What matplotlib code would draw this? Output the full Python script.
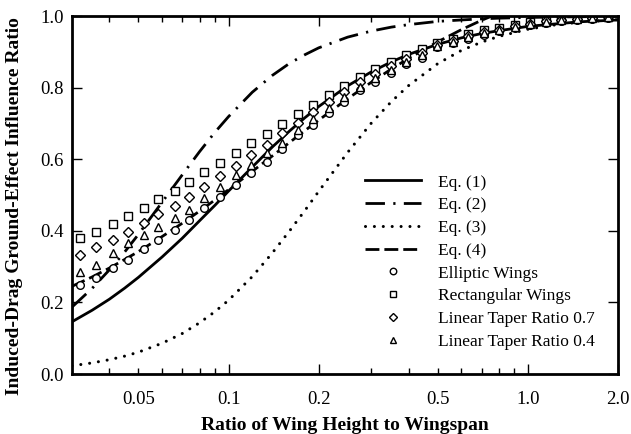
import matplotlib
matplotlib.use("Agg")
import matplotlib.pyplot as plt
from matplotlib.ticker import FixedLocator, FuncFormatter

plt.rcParams['font.family'] = ['Liberation Serif', 'DejaVu Serif']

# equation curves
h_eq = [0.03, 0.035, 0.04, 0.045, 0.05, 0.06, 0.07, 0.08, 0.09, 0.1, 0.12, 0.14,
        0.16, 0.18, 0.2, 0.25, 0.3, 0.35, 0.4, 0.5, 0.6, 0.7, 0.8, 1.0, 1.2, 1.5, 2.0]
eq1 = [0.146, 0.178, 0.209, 0.240, 0.270, 0.327, 0.379, 0.428, 0.471, 0.511, 0.578, 0.634,
       0.679, 0.716, 0.747, 0.805, 0.844, 0.872, 0.893, 0.921, 0.939, 0.951, 0.959, 0.971,
       0.977, 0.984, 0.989]
eq2 = [0.187, 0.239, 0.291, 0.341, 0.390, 0.480, 0.556, 0.621, 0.675, 0.719, 0.787, 0.834,
       0.868, 0.892, 0.911, 0.941, 0.958, 0.969, 0.976, 0.985, 0.989, 0.992, 0.994, 0.996,
       0.997, 0.998, 0.999]
eq3 = [0.023, 0.031, 0.040, 0.050, 0.061, 0.086, 0.113, 0.143, 0.174, 0.206, 0.272, 0.338,
       0.400, 0.457, 0.510, 0.619, 0.701, 0.761, 0.806, 0.867, 0.904, 0.927, 0.943, 0.963,
       0.974, 0.983, 0.990]
eq4 = [0.245, 0.271, 0.296, 0.320, 0.342, 0.384, 0.421, 0.455, 0.486, 0.515, 0.566, 0.609,
       0.647, 0.680, 0.709, 0.769, 0.815, 0.852, 0.882, 0.928, 0.962, 0.988, 1.008, 1.038,
       1.059, 1.081, 1.103]

# wing data points
h_pts = [0.032, 0.036, 0.041, 0.046, 0.052, 0.058, 0.066, 0.074, 0.083, 0.094, 0.106, 0.119,
         0.134, 0.151, 0.170, 0.192, 0.216, 0.244, 0.275, 0.309, 0.348, 0.393, 0.442, 0.498,
         0.562, 0.633, 0.713, 0.803, 0.905, 1.02, 1.15, 1.29, 1.46, 1.64, 1.85]
elliptic = [0.249, 0.268, 0.296, 0.318, 0.348, 0.374, 0.402, 0.430, 0.463, 0.495, 0.528, 0.561,
            0.593, 0.628, 0.668, 0.696, 0.728, 0.761, 0.793, 0.817, 0.840, 0.866, 0.884, 0.914,
            0.924, 0.935, 0.948, 0.957, 0.967, 0.975, 0.981, 0.986, 0.990, 0.993, 0.995]
rectangular = [0.379, 0.397, 0.418, 0.442, 0.464, 0.488, 0.512, 0.537, 0.563, 0.590, 0.616, 0.644,
               0.670, 0.698, 0.726, 0.751, 0.779, 0.804, 0.829, 0.851, 0.872, 0.891, 0.907, 0.926,
               0.937, 0.950, 0.960, 0.966, 0.974, 0.982, 0.987, 0.991, 0.994, 0.996, 0.998]
taper07 = [0.332, 0.354, 0.374, 0.397, 0.422, 0.447, 0.470, 0.495, 0.523, 0.553, 0.581, 0.612,
           0.641, 0.672, 0.702, 0.733, 0.761, 0.789, 0.817, 0.838, 0.860, 0.880, 0.897, 0.920,
           0.931, 0.944, 0.955, 0.962, 0.971, 0.979, 0.985, 0.989, 0.993, 0.995, 0.997]
taper04 = [0.285, 0.305, 0.338, 0.366, 0.388, 0.411, 0.436, 0.458, 0.492, 0.523, 0.556, 0.584,
           0.616, 0.644, 0.682, 0.712, 0.742, 0.773, 0.803, 0.826, 0.849, 0.872, 0.890, 0.917,
           0.928, 0.940, 0.952, 0.960, 0.969, 0.978, 0.984, 0.988, 0.992, 0.994, 0.996]

major_x = [0.1, 0.2, 1.0, 2.0]
minor_x = [0.04, 0.05, 0.06, 0.07, 0.08, 0.09, 0.3, 0.4, 0.5, 0.6, 0.7, 0.8, 0.9]
labeled_x = {0.05: "0.05", 0.1: "0.1", 0.2: "0.2", 0.5: "0.5", 1.0: "1.0", 2.0: "2.0"}

fig = plt.figure(figsize=(6.31, 4.34), dpi=100)
ax = fig.add_axes([0.1141, 0.1382, 0.8653, 0.8249])

lw = 2.0
ax.plot(h_eq, eq1, color='black', lw=lw, ls='-', label='Eq. (1)')
ax.plot(h_eq, eq2, color='black', lw=lw, ls=(0, (7, 3, 0.8, 3)), label='Eq. (2)')
ax.plot(h_eq, eq3, color='black', lw=2.2, ls=(0, (0.01, 2.9)), dash_capstyle='round',
        label='Eq. (3)')
ax.plot(h_eq, eq4, color='black', lw=lw, ls=(0, (5, 1.8)), label='Eq. (4)')

mk = dict(ls='none', mfc='white', mec='black', mew=1.0, ms=5.5)
ax.plot(h_pts, elliptic, marker='o', label='Elliptic Wings', **mk)
ax.plot(h_pts, rectangular, marker='s', label='Rectangular Wings', **mk)
ax.plot(h_pts, taper07, marker='D', label='Linear Taper Ratio 0.7', **{**mk, 'ms': 5})
ax.plot(h_pts, taper04, marker='^', label='Linear Taper Ratio 0.4', **mk)

ax.set_xscale('log')
ax.set_xlim(0.03, 2.0)
ax.set_ylim(0.0, 1.0)
ax.xaxis.set_major_locator(FixedLocator(major_x))
ax.xaxis.set_minor_locator(FixedLocator(minor_x))
fmt = FuncFormatter(lambda v, p: labeled_x.get(round(v, 3), ""))
ax.xaxis.set_major_formatter(fmt)
ax.xaxis.set_minor_formatter(fmt)
ax.set_yticks([0.0, 0.2, 0.4, 0.6, 0.8, 1.0])
ax.set_yticklabels(["0.0", "0.2", "0.4", "0.6", "0.8", "1.0"])

ax.tick_params(which='both', direction='in', top=True, right=True, labelsize=13.5,
               width=1.0)
ax.tick_params(which='major', length=7)
ax.tick_params(which='minor', length=4)
ax.tick_params(axis='x', which='both', pad=12)
ax.tick_params(axis='y', which='both', pad=6)
for s in ax.spines.values():
    s.set_linewidth(2.0)

ax.set_xlabel('Ratio of Wing Height to Wingspan', fontsize=14, fontweight='bold', labelpad=7)
ax.set_ylabel('Induced-Drag Ground-Effect Influence Ratio', fontsize=14, fontweight='bold')
ax.yaxis.set_label_coords(-0.09, 0.47)

ax.legend(loc='upper left', bbox_to_anchor=(0.524, 0.577), frameon=False, fontsize=12.5,
          handlelength=3.2, handletextpad=1.0, labelspacing=0.38, numpoints=1,
          borderaxespad=0.0, markerscale=0.85)

fig.savefig('out.png', dpi=100)
